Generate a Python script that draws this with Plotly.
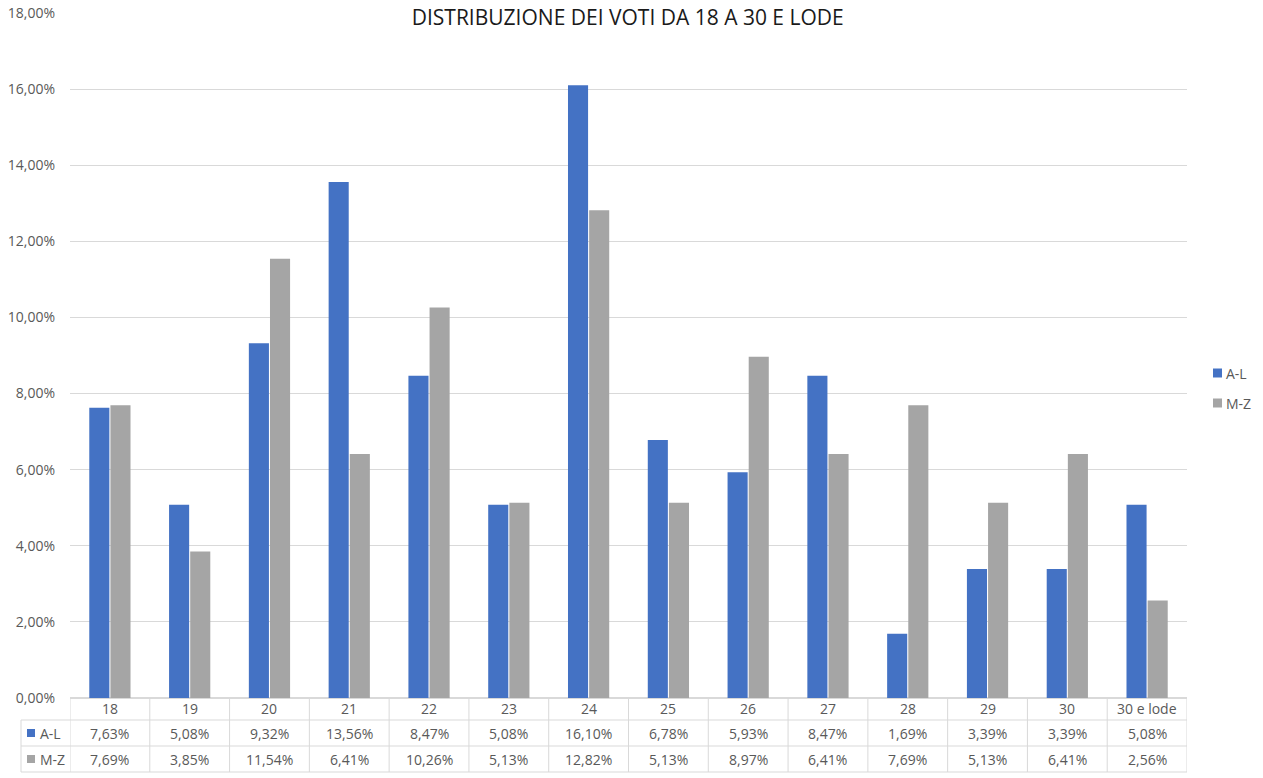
import plotly.graph_objects as go

# data
categories = ["18", "19", "20", "21", "22", "23", "24", "25", "26", "27", "28", "29", "30", "30 e lode"]
al_values = [7.63, 5.08, 9.32, 13.56, 8.47, 5.08, 16.10, 6.78, 5.93, 8.47, 1.69, 3.39, 3.39, 5.08]
mz_values = [7.69, 3.85, 11.54, 6.41, 10.26, 5.13, 12.82, 5.13, 8.97, 6.41, 7.69, 5.13, 6.41, 2.56]
series_names = ["A-L", "M-Z"]

BLUE = "#4472C4"
GREY = "#A5A5A5"
GRID = "#D9D9D9"
TEXT = "#595959"
FONT = "Open Sans"

W, H = 1263, 778
ML, MR, MT, MB = 70, 76, 13, 80
PH = H - MT - MB
PW = W - ML - MR


def py(px):
    # pixel row (from top) -> paper y
    return (H - MB - px) / PH


def pxx(px):
    # pixel column -> paper x
    return (px - ML) / PW


def fmt(v):
    return f"{v:.2f}%".replace(".", ",")


fig = go.Figure()
fig.add_trace(go.Bar(x=categories, y=al_values, name=series_names[0],
                     marker=dict(color=BLUE, line=dict(width=0))))
fig.add_trace(go.Bar(x=categories, y=mz_values, name=series_names[1],
                     marker=dict(color=GREY, line=dict(width=0))))

shapes = []
annotations = []

# data table under the plot
row_lines = [698, 720, 746, 772]
left_px = 21
n = len(categories)
for i in range(n + 1):
    shapes.append(dict(type="line", xref="x", yref="paper", x0=i - 0.5, x1=i - 0.5,
                       y0=py(698), y1=py(772), line=dict(color=GRID, width=1)))
shapes.append(dict(type="line", xref="paper", yref="paper", x0=pxx(left_px), x1=pxx(left_px),
                   y0=py(720), y1=py(772), line=dict(color=GRID, width=1)))
for r in row_lines[1:]:
    shapes.append(dict(type="line", xref="paper", yref="paper", x0=pxx(left_px), x1=1,
                       y0=py(r), y1=py(r), line=dict(color=GRID, width=1)))

# category row
for i, c in enumerate(categories):
    annotations.append(dict(xref="x", yref="paper", x=i, y=py(709), text=c, showarrow=False,
                            yanchor="middle", font=dict(size=14, color=TEXT, family=FONT)))

# value rows
for row, (name, vals, col) in enumerate([(series_names[0], al_values, BLUE),
                                         (series_names[1], mz_values, GREY)]):
    yc = (row_lines[row + 1] + row_lines[row + 2]) / 2
    for i, v in enumerate(vals):
        annotations.append(dict(xref="x", yref="paper", x=i, y=py(yc), text=fmt(v), showarrow=False,
                                yanchor="middle", font=dict(size=14, color=TEXT, family=FONT)))
    shapes.append(dict(type="rect", xref="paper", yref="paper", x0=pxx(27), x1=pxx(35),
                       y0=py(yc + 4), y1=py(yc - 4), fillcolor=col, line=dict(width=0)))
    annotations.append(dict(xref="paper", yref="paper", x=pxx(38), y=py(yc), text=name, showarrow=False,
                            xanchor="left", yanchor="middle", font=dict(size=14, color=TEXT, family=FONT)))

# legend on the right, drawn like the chart's own key
for name, col, yc in [(series_names[0], BLUE, 373), (series_names[1], GREY, 403)]:
    shapes.append(dict(type="rect", xref="paper", yref="paper", x0=pxx(1213), x1=pxx(1222),
                       y0=py(yc + 4.5), y1=py(yc - 4.5), fillcolor=col, line=dict(width=0)))
    annotations.append(dict(xref="paper", yref="paper", x=pxx(1224), y=py(yc), text=name, showarrow=False,
                            xanchor="left", yanchor="middle", font=dict(size=14, color=TEXT, family=FONT)))

fig.update_layout(
    width=W, height=H,
    margin=dict(l=ML, r=MR, t=MT, b=MB, autoexpand=False),
    paper_bgcolor="white", plot_bgcolor="white",
    separators=",.",
    barmode="group", bargap=0.47, bargroupgap=0.05,
    title=dict(text="DISTRIBUZIONE DEI VOTI DA 18 A 30 E LODE", x=0.497, xanchor="center",
               y=1 - 18 / H, yanchor="middle", font=dict(size=21, color="#1a1a1a", family=FONT)),
    font=dict(family=FONT, color=TEXT, size=14),
    showlegend=False,
    hovermode=False,
    shapes=shapes,
    annotations=annotations,
)
fig.update_xaxes(showticklabels=False, showgrid=False, showline=False, zeroline=False,
                 range=[-0.5, n - 0.5], automargin=False)
fig.update_yaxes(range=[0, 18], dtick=2, tickformat=".2f", ticksuffix="%",
                 showgrid=True, gridcolor=GRID, gridwidth=1, zeroline=True, zerolinecolor=GRID,
                 showline=False, ticks="", ticklabelstandoff=14, automargin=False,
                 tickfont=dict(size=14, color=TEXT, family=FONT))

fig.write_html("out.html", config={"displayModeBar": False},
               post_script="document.body.style.margin='0';")
